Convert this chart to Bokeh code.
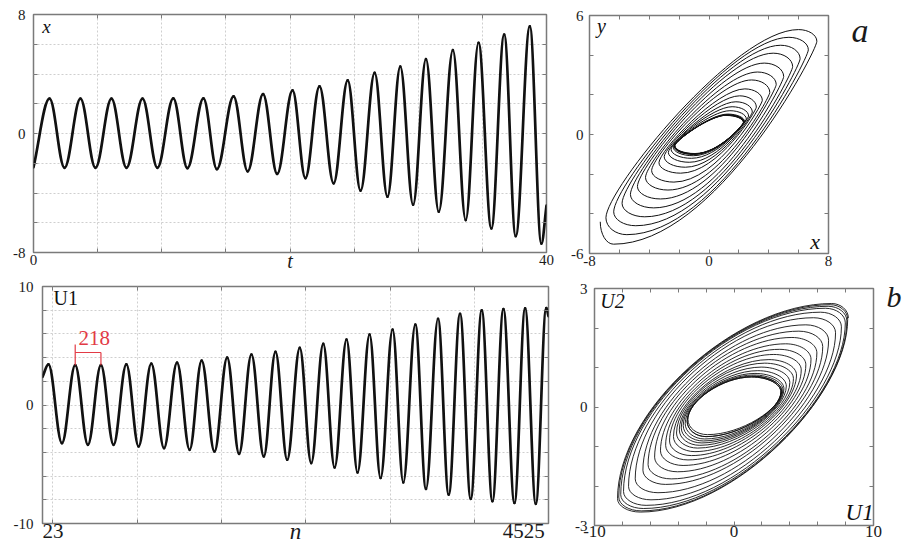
from bokeh.plotting import figure
from bokeh.models import Range1d, LinearAxis, FixedTicker, Label, ColumnDataSource
from bokeh.layouts import row, column
from bokeh.embed import file_html
from bokeh.resources import INLINE

SERIF = "Liberation Serif"
FRAME = "#7a7a7a"
TICK = "#7a7a7a"
GRID = "#cfcfcf"
INK = "#111111"
RED = "#e23a45"

# ---------------- panel a : time series x(t) ----------------
a_start = (0.0, -2.27)
a_end = (40.0, -4.85)
a_peak_t = [1.25, 3.66, 6.08, 8.5, 10.9, 13.25, 15.6, 17.9, 20.2, 22.3, 24.5, 26.6, 28.6, 30.6, 32.7, 34.7, 36.7, 38.7]
a_peak_x = [2.34, 2.34, 2.34, 2.34, 2.36, 2.36, 2.5, 2.65, 2.9, 3.17, 3.57, 4.07, 4.5, 5.0, 5.6, 6.1, 6.65, 7.2]
a_trough_t = [2.42, 4.83, 7.25, 9.66, 12.0, 14.3, 16.7, 19.0, 21.2, 23.4, 25.5, 27.6, 29.6, 31.6, 33.7, 35.7, 37.6, 39.6]
a_trough_x = [-2.31, -2.31, -2.31, -2.31, -2.33, -2.4, -2.54, -2.72, -3.0, -3.35, -3.84, -4.25, -4.79, -5.26, -5.82, -6.38, -6.9, -7.4]
a_t_ticks = [0, 5, 10, 15, 20, 25, 30, 35, 40]
a_x_ticks = [-8, -6, -4, -2, 0, 2, 4, 6, 8]

# ---------------- panel a : phase portrait y(x), one loop per cycle ----------------
pa_top_x = [1.15, 1.17, 1.2, 1.2, 1.22, 1.25, 1.4, 1.55, 1.8, 2.05, 2.4, 2.85, 3.25, 3.7, 4.3, 4.8, 5.35, 5.99]
pa_top_y = [0.96, 0.97, 0.98, 0.99, 1.0, 1.03, 1.2, 1.4, 1.65, 1.95, 2.3, 2.75, 3.15, 3.6, 4.1, 4.5, 4.9, 5.29]
pa_right_x = [2.3, 2.32, 2.34, 2.34, 2.36, 2.38, 2.5, 2.65, 2.9, 3.17, 3.57, 4.07, 4.5, 5.0, 5.6, 6.1, 6.65, 7.22]
pa_right_y = [0.6, 0.61, 0.62, 0.62, 0.63, 0.65, 0.78, 0.93, 1.13, 1.38, 1.72, 2.12, 2.52, 2.92, 3.42, 3.82, 4.27, 4.7]
pa_bot_x = [-0.95, -0.96, -0.98, -1.0, -1.02, -1.06, -1.18, -1.32, -1.58, -1.9, -2.35, -2.75, -3.25, -3.7, -4.3, -4.9, -5.5, -6.39]
pa_bot_y = [-0.96, -0.97, -0.98, -0.99, -1.01, -1.07, -1.2, -1.4, -1.65, -1.95, -2.4, -2.8, -3.25, -3.7, -4.15, -4.6, -5.05, -5.53]
pa_left_x = [-2.28, -2.3, -2.31, -2.32, -2.34, -2.4, -2.54, -2.72, -3.0, -3.35, -3.84, -4.25, -4.79, -5.26, -5.82, -6.38, -6.9, -7.28]
pa_left_y = [-0.56, -0.57, -0.57, -0.58, -0.59, -0.63, -0.74, -0.9, -1.12, -1.42, -1.82, -2.17, -2.62, -3.02, -3.47, -3.9, -4.2, -4.4]
pa_x_ticks = [-8, -6, -4, -2, 0, 2, 4, 6, 8]
pa_y_ticks = [-6, -4, -2, 0, 2, 4, 6]

# ---------------- panel b : sampled series U1(n) ----------------
b_start = (23.0, 2.38)
b_end = (4525.0, 7.5)
b_peak_n = [76, 314, 543, 769, 991, 1220, 1439, 1666, 1882, 2096, 2312, 2521, 2728, 2933, 3138, 3340, 3542, 3738, 3931, 4124, 4317, 4505]
b_peak_u = [3.42, 3.36, 3.36, 3.42, 3.5, 3.58, 3.75, 4.0, 4.26, 4.48, 4.82, 5.15, 5.52, 5.94, 6.36, 6.78, 7.28, 7.7, 7.98, 8.09, 8.15, 8.18]
b_trough_n = [196, 427, 655, 878, 1104, 1332, 1553, 1772, 1992, 2200, 2414, 2622, 2826, 3031, 3233, 3435, 3637, 3833, 4026, 4222, 4412]
b_trough_u = [-3.22, -3.36, -3.36, -3.5, -3.64, -3.78, -3.92, -4.12, -4.34, -4.62, -4.9, -5.27, -5.69, -6.16, -6.53, -7.08, -7.56, -7.92, -8.12, -8.26, -8.34]
b_n_grid = [116, 866, 1616, 2366, 3116, 3866]
b_u_ticks = [-10, -8, -6, -4, -2, 0, 2, 4, 6, 8, 10]
b_n_label_ticks = [116, 4305]
b_n_labels = ["23", "4525"]
b_period_label = "218"

# ---------------- panel b : phase portrait U2(U1) ----------------
pb_top_x = [1.3, 1.25, 1.25, 1.3, 1.4, 1.5, 1.7, 1.95, 2.2, 2.5, 2.85, 3.25, 3.7, 4.15, 4.65, 5.15, 5.7, 6.2, 6.55, 6.75, 6.9, 7.0]
pb_top_y = [0.78, 0.76, 0.76, 0.78, 0.81, 0.85, 0.92, 1.01, 1.11, 1.2, 1.33, 1.46, 1.6, 1.76, 1.92, 2.08, 2.26, 2.4, 2.5, 2.55, 2.59, 2.62]
pb_right_x = [3.42, 3.36, 3.36, 3.42, 3.5, 3.58, 3.75, 4.0, 4.26, 4.48, 4.82, 5.15, 5.52, 5.94, 6.36, 6.78, 7.28, 7.7, 7.98, 8.09, 8.15, 8.2]
pb_right_y = [0.4, 0.38, 0.38, 0.4, 0.43, 0.46, 0.53, 0.62, 0.72, 0.81, 0.94, 1.07, 1.21, 1.37, 1.53, 1.69, 1.88, 2.03, 2.13, 2.18, 2.22, 2.25]
pb_bot_x = [-1.9, -2.0, -2.0, -2.1, -2.2, -2.3, -2.45, -2.6, -2.8, -3.05, -3.3, -3.65, -4.05, -4.5, -4.9, -5.45, -5.95, -6.3, -6.5, -6.65, -6.72]
pb_bot_y = [-0.7, -0.75, -0.75, -0.81, -0.86, -0.91, -0.97, -1.04, -1.13, -1.23, -1.34, -1.48, -1.64, -1.82, -1.96, -2.17, -2.35, -2.49, -2.57, -2.63, -2.66]
pb_left_x = [-3.3, -3.36, -3.36, -3.5, -3.64, -3.78, -3.92, -4.12, -4.34, -4.62, -4.9, -5.27, -5.69, -6.16, -6.53, -7.08, -7.56, -7.92, -8.12, -8.26, -8.35]
pb_left_y = [-0.32, -0.36, -0.36, -0.42, -0.47, -0.53, -0.58, -0.66, -0.75, -0.86, -0.97, -1.11, -1.27, -1.46, -1.6, -1.82, -2.01, -2.14, -2.22, -2.28, -2.32]
pb_x_ticks = [-10, -8, -6, -4, -2, 0, 2, 4, 6, 8, 10]
pb_y_ticks = [-3, -2, -1, 0, 1, 2, 3]


# ---------------- helpers ----------------
def extrema_sequence(start, pk_t, pk_v, tr_t, tr_v, end):
    ts, vs = [start[0]], [start[1]]
    for i in range(len(pk_t)):
        ts.append(pk_t[i]); vs.append(pk_v[i])
        if i < len(tr_t):
            ts.append(tr_t[i]); vs.append(tr_v[i])
    ts.append(end[0]); vs.append(end[1])
    return ts, vs


KEYS = ("x0", "y0", "x1", "y1", "cx0", "cy0", "cx1", "cy1")


def wave_source(ts, vs, k=0.364):
    d = {key: [] for key in KEYS}
    last = len(ts) - 2
    for i in range(len(ts) - 1):
        dt = ts[i + 1] - ts[i]
        dv = vs[i + 1] - vs[i]
        d["x0"].append(ts[i]); d["y0"].append(vs[i])
        d["x1"].append(ts[i + 1]); d["y1"].append(vs[i + 1])
        d["cx0"].append(ts[i] + k * dt)
        d["cy0"].append(vs[i] + (k * dv if i == 0 else 0.0))
        d["cx1"].append(ts[i + 1] - k * dt)
        d["cy1"].append(vs[i + 1] - (k * dv if i == last else 0.0))
    return ColumnDataSource(d)


def loop_source(Tx, Ty, Rx, Ry, Bx, By, Lx, Ly, corner=0.55, rb=(0.33, 0.33), lt=(0.33, 0.33)):
    """Spiral: top -> right -> bottom -> left -> next top, drawn as cubic Beziers
    with horizontal tangents at the y-extremes and vertical tangents at the x-extremes."""
    d = {key: [] for key in KEYS}

    def seg(*vals):
        for key, v in zip(KEYS, vals):
            d[key].append(v)

    n = len(Tx)
    for k in range(n):
        seg(Tx[k], Ty[k], Rx[k], Ry[k],
            Tx[k] + corner * (Rx[k] - Tx[k]), Ty[k], Rx[k], Ry[k] + corner * (Ty[k] - Ry[k]))
        if k < len(Bx):
            seg(Rx[k], Ry[k], Bx[k], By[k],
                Rx[k], Ry[k] - rb[0] * (Ry[k] - By[k]), Bx[k] + rb[1] * (Rx[k] - Bx[k]), By[k])
            seg(Bx[k], By[k], Lx[k], Ly[k],
                Bx[k] - corner * (Bx[k] - Lx[k]), By[k], Lx[k], Ly[k] - corner * (Ly[k] - By[k]))
            if k + 1 < n:
                seg(Lx[k], Ly[k], Tx[k + 1], Ty[k + 1],
                    Lx[k], Ly[k] + lt[0] * (Ty[k + 1] - Ly[k]),
                    Tx[k + 1] - lt[1] * (Tx[k + 1] - Lx[k]), Ty[k + 1])
    return ColumnDataSource(d)


def make_fig(w, h, xr, yr, left, right, top, bottom):
    p = figure(width=w, height=h, x_range=Range1d(*xr), y_range=Range1d(*yr),
               toolbar_location=None, output_backend="svg",
               min_border_left=left, min_border_right=right,
               min_border_top=top, min_border_bottom=bottom)
    p.frame_align = False
    p.outline_line_color = FRAME
    p.outline_line_width = 1.5
    p.background_fill_color = "white"
    p.border_fill_color = "white"
    return p


def style_axis(ax, ticks, overrides, size="15px", standoff=4, show=True, tick_marks=True):
    ax.ticker = FixedTicker(ticks=ticks)
    ax.major_label_overrides = overrides
    ax.major_tick_in = 4
    ax.major_tick_out = 0
    ax.minor_tick_line_color = None
    ax.major_tick_line_color = TICK if tick_marks else None
    ax.major_tick_line_width = 1
    ax.axis_line_color = None
    ax.major_label_standoff = standoff
    ax.major_label_text_font = SERIF
    ax.major_label_text_color = "#1a1a1a"
    ax.major_label_text_font_size = size if show else "0px"
    ax.axis_label_text_font = SERIF
    ax.axis_label_text_color = "#1a1a1a"


def blank(ticks):
    return {t: "" for t in ticks}


def shown(ticks, keep):
    return {t: (str(t) if t in keep else "") for t in ticks}


def add_frame_axes(p, xt, yt):
    top = LinearAxis()
    right = LinearAxis()
    style_axis(top, xt, blank(xt), show=False, standoff=0)
    style_axis(right, yt, blank(yt), show=False, standoff=0)
    p.add_layout(top, "above")
    p.add_layout(right, "right")


def letter_axis(p, pos, letter, size, standoff, side="right"):
    ax = LinearAxis()
    style_axis(ax, [pos], {pos: letter}, size=size, standoff=standoff, tick_marks=False)
    ax.major_label_text_font_style = "italic"
    p.add_layout(ax, side)


def text(p, x, y, s, size, style="normal", align="left", color="#111111"):
    p.add_layout(Label(x=x, y=y, text=s, text_font=SERIF, text_font_size=size,
                       text_font_style=style, text_align=align, text_baseline="alphabetic",
                       text_color=color))


def grid_style(p, xt, yt):
    p.xgrid.ticker = FixedTicker(ticks=xt)
    p.ygrid.ticker = FixedTicker(ticks=yt)
    for g in (p.xgrid, p.ygrid):
        g.grid_line_color = GRID
        g.grid_line_dash = "2 2"


BEZ = dict(x0="x0", y0="y0", x1="x1", y1="y1", cx0="cx0", cy0="cy0", cx1="cx1", cy1="cy1")

# ---------------- figure 1: x(t) ----------------
p1 = make_fig(565, 276, (0, 40), (-8, 8), 33, 19, 14, 24)
style_axis(p1.xaxis[0], a_t_ticks, shown(a_t_ticks, (0, 40)), standoff=2)
p1.xaxis[0].axis_label = "t"
p1.xaxis[0].axis_label_text_font_style = "italic"
p1.xaxis[0].axis_label_text_font_size = "20px"
p1.xaxis[0].axis_label_standoff = -18
style_axis(p1.yaxis[0], a_x_ticks, shown(a_x_ticks, (-8, 0, 8)), standoff=8)
add_frame_axes(p1, a_t_ticks, a_x_ticks)
grid_style(p1, a_t_ticks, a_x_ticks)
ts, vs = extrema_sequence(a_start, a_peak_t, a_peak_x, a_trough_t, a_trough_x, a_end)
p1.bezier(source=wave_source(ts, vs), line_color=INK, line_width=2.7, line_cap="round", **BEZ)
text(p1, 0.68, 7.2, "x", "19px", style="italic")

# ---------------- figure 2: y(x) ----------------
p2 = make_fig(348, 276, (-8, 8), (-6, 6), 24, 85, 15, 23)
style_axis(p2.xaxis[0], pa_x_ticks, shown(pa_x_ticks, (-8, 0, 8)), standoff=2)
style_axis(p2.yaxis[0], pa_y_ticks, shown(pa_y_ticks, (-6, 0, 6)), standoff=6)
add_frame_axes(p2, pa_x_ticks, pa_y_ticks)
letter_axis(p2, 5.25, "a", "34px", 23)
p2.grid.visible = False
p2.bezier(source=loop_source(pa_top_x, pa_top_y, pa_right_x, pa_right_y,
                             pa_bot_x, pa_bot_y, pa_left_x, pa_left_y,
                             corner=0.55, rb=(0.05, 0.5), lt=(0.15, 0.33)),
          line_color=INK, line_width=1.0, **BEZ)
text(p2, -7.5, 5.49, "y", "20px", style="italic")
text(p2, 6.77, -5.42, "x", "22px", style="italic")

# ---------------- figure 3: U1(n) ----------------
p3 = make_fig(565, 273, (23, 4525), (-10, 10), 42, 17, 10, 26)
style_axis(p3.xaxis[0], b_n_grid, blank(b_n_grid), show=False, standoff=0)
style_axis(p3.yaxis[0], b_u_ticks, shown(b_u_ticks, (-10, 0, 10)), standoff=9)
add_frame_axes(p3, b_n_grid, b_u_ticks)
nlab = LinearAxis()
style_axis(nlab, b_n_label_ticks, dict(zip(b_n_label_ticks, b_n_labels)), size="21px",
           standoff=0, tick_marks=False)
nlab.axis_label = "n"
nlab.axis_label_text_font_style = "italic"
nlab.axis_label_text_font_size = "23px"
nlab.axis_label_standoff = -22
p3.add_layout(nlab, "below")
grid_style(p3, b_n_grid, b_u_ticks)
ns, us = extrema_sequence(b_start, b_peak_n, b_peak_u, b_trough_n, b_trough_u, b_end)
p3.bezier(source=wave_source(ns, us), line_color=INK, line_width=2.7, line_cap="round", **BEZ)
text(p3, 121, 9.05, "U1", "20px")
# period bracket between the 2nd and 3rd maxima
n_left, n_right = b_peak_n[1], b_peak_n[2]
level = 4.43
p3.segment(x0=[n_left, n_left, n_right], y0=[level, b_peak_u[1], b_peak_u[2]],
           x1=[n_right, n_left, n_right], y1=[level, 5.1, level],
           line_color=RED, line_width=1.2)
text(p3, 344, 5.62, b_period_label, "21px", color=RED)

# ---------------- figure 4: U2(U1) ----------------
p4 = make_fig(348, 273, (-10, 10), (-3, 3), 29, 40, 12, 24)
style_axis(p4.xaxis[0], pb_x_ticks, shown(pb_x_ticks, (-10, 0, 10)), size="17px", standoff=0)
style_axis(p4.yaxis[0], pb_y_ticks, shown(pb_y_ticks, (-3, 0, 3)), standoff=7)
add_frame_axes(p4, pb_x_ticks, pb_y_ticks)
letter_axis(p4, 2.8, "b", "30px", 13)
p4.grid.visible = False
p4.bezier(source=loop_source(pb_top_x, pb_top_y, pb_right_x, pb_right_y,
                             pb_bot_x, pb_bot_y, pb_left_x, pb_left_y,
                             corner=0.55, rb=(0.4, 0.45), lt=(0.45, 0.45)),
          line_color=INK, line_width=0.9, **BEZ)
text(p4, -9.59, 2.68, "U2", "20px", style="italic")
text(p4, 8.0, -2.68, "U1", "23px", style="italic")

layout = row(column(p1, p3), column(p2, p4))
open("out.html", "w").write(file_html(layout, INLINE))
